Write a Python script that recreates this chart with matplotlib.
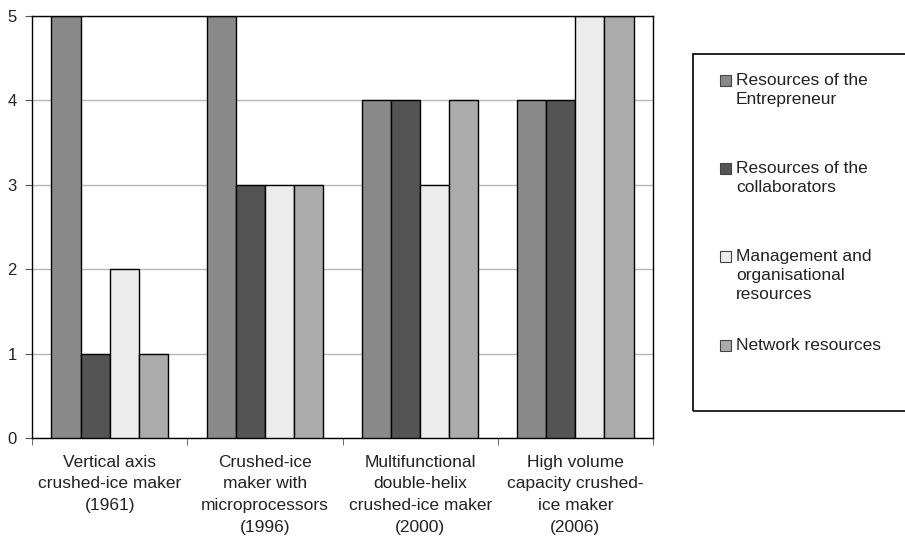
import matplotlib
matplotlib.use("Agg")
import matplotlib.pyplot as plt
from matplotlib.patches import Rectangle
import numpy as np

plt.rcParams['font.family'] = ['Liberation Sans', 'DejaVu Sans']

categories = ["Vertical axis\ncrushed-ice maker\n(1961)",
              "Crushed-ice\nmaker with\nmicroprocessors\n(1996)",
              "Multifunctional\ndouble-helix\ncrushed-ice maker\n(2000)",
              "High volume\ncapacity crushed-\nice maker\n(2006)"]
series_names = ["Resources of the\nEntrepreneur",
                "Resources of the\ncollaborators",
                "Management and\norganisational\nresources",
                "Network resources"]
entrepreneur = [5, 5, 4, 4]
collaborators = [1, 3, 4, 4]
management = [2, 3, 3, 5]
network = [1, 3, 4, 5]
series = [entrepreneur, collaborators, management, network]
colors = ["#898989", "#545454", "#ececec", "#ababab"]

W, H = 905, 536
fig = plt.figure(figsize=(W / 100, H / 100), dpi=100)
ax = fig.add_axes([32 / W, 1 - 438 / H, (653 - 32) / W, (438 - 16) / H])

x = np.arange(len(categories))
bw = 0.1875
for i, (vals, c) in enumerate(zip(series, colors)):
    ax.bar(x + (i - 1.5) * bw, vals, width=bw, color=c, edgecolor="black",
           linewidth=1.0, zorder=3)

ax.set_xlim(-0.5, len(categories) - 0.5)
ax.set_ylim(0, 5)
ax.set_yticks(range(0, 6))
ax.yaxis.grid(True, color="#b8b8b8", linewidth=1.0, zorder=0)
ax.set_axisbelow(True)
for s in ax.spines.values():
    s.set_color("black")
    s.set_linewidth(1.0)
ax.spines['top'].set_zorder(4)

ax.set_xticks(x)
ax.set_xticklabels(categories, fontsize=12.5, linespacing=1.56, color="#222222")
ax.tick_params(axis='x', which='major', length=0, pad=12)
ax.set_xticks(np.arange(-0.5, len(categories)), minor=True)
ax.tick_params(axis='x', which='minor', length=5, direction='out', color="#555555")
ax.tick_params(axis='y', length=5, direction='out', labelsize=12, pad=6,
               color="#555555", labelcolor="#222222")

# legend box
fig.patches.append(Rectangle((693 / W, 1 - 411 / H), (W + 5 - 693) / W, (411 - 54) / H,
                             transform=fig.transFigure, fill=False,
                             edgecolor="black", linewidth=1.2, clip_on=False))
ys = [80, 168, 256, 345]
for name, c, yy in zip(series_names, colors, ys):
    fig.patches.append(Rectangle((720 / W, 1 - (yy + 6) / H), 11 / W, 11 / H,
                                 transform=fig.transFigure, facecolor=c,
                                 edgecolor="#444444", linewidth=0.8))
    fig.text(736 / W, 1 - (yy - 7) / H, name, fontsize=12.5, va="top", ha="left",
             linespacing=1.33, color="#222222")

fig.savefig("out.png", dpi=100)
